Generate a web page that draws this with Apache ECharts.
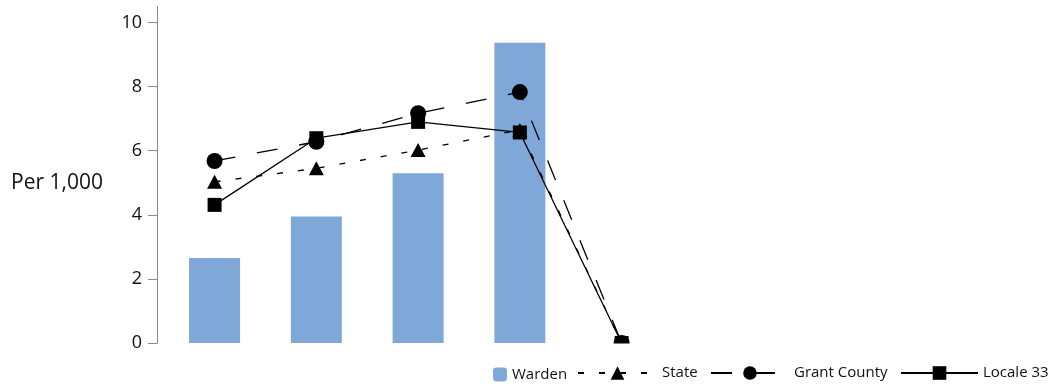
<!DOCTYPE html>
<html><head><meta charset="utf-8">
<script src="https://cdn.jsdelivr.net/npm/echarts@6/dist/echarts.min.js"></script>
<style>html,body{margin:0;padding:0;background:#fff}#c{width:1050px;height:386px}</style>
</head><body><div id="c"></div>
<script>
const categories = ['1', '2', '3', '4', '5'];
const warden = [2.65, 3.95, 5.3, 9.37, 0];
const state = [5.03, 5.45, 6.02, 6.65, 0];
const grantCounty = [5.68, 6.28, 7.17, 7.83, 0];
const locale33 = [4.31, 6.39, 6.9, 6.57, 0];
const yTicks = [0, 2, 4, 6, 8, 10];
const yAxisTitle = 'Per 1,000';

const FONT = 'Open Sans';
const chart = echarts.init(document.getElementById('c'), null, {renderer: 'canvas'});
const legendText = {color: '#111', fontSize: 15, fontFamily: FONT};
chart.setOption({
  animation: false,
  backgroundColor: '#fff',
  title: {
    text: yAxisTitle, left: 11, top: 173, padding: 0,
    textStyle: {fontSize: 21, fontWeight: 'normal', color: '#111', fontFamily: FONT}
  },
  grid: {left: 163.7, right: 377.5, top: 6.5, bottom: 43, containLabel: false},
  xAxis: {
    type: 'category', data: categories,
    axisLine: {show: false}, axisTick: {show: false}, axisLabel: {show: false}, splitLine: {show: false}
  },
  yAxis: {
    type: 'value', min: 0, max: 10.5, interval: 2, offset: 6.7,
    axisLine: {show: true, lineStyle: {color: '#8a8a8a', width: 1}},
    axisTick: {show: true, length: 9, customValues: yTicks, lineStyle: {color: '#8a8a8a'}},
    axisLabel: {customValues: yTicks, margin: 15, fontSize: 18, color: '#111', fontFamily: FONT},
    splitLine: {show: false}
  },
  legend: [
    {data: ['Warden'], left: 493, top: 367, padding: 0, itemWidth: 14, itemHeight: 14, textStyle: legendText},
    {data: ['State'], left: 577, top: 365.5, padding: 0, itemWidth: 79, itemHeight: 17, textStyle: legendText},
    {data: ['Grant County'], left: 710, top: 365.5, padding: 0, itemWidth: 78, itemHeight: 17, textStyle: legendText},
    {data: ['Locale 33'], left: 900, top: 365.5, padding: 0, itemWidth: 77, itemHeight: 17, textStyle: legendText}
  ],
  graphic: {
    z: 100,
    elements: [
      {type: 'rect', left: 158, top: 343.5, z: 100, shape: {width: 560, height: 14}, style: {fill: '#fff'}}
    ]
  },
  series: [
    {name: 'Warden', type: 'bar', data: warden, barWidth: 51, itemStyle: {color: '#7fa7d8'}},
    {name: 'State', type: 'line', data: state, symbol: 'triangle', symbolSize: [15, 14],
     itemStyle: {color: '#000'}, lineStyle: {color: '#000', width: 1.3, type: [6, 15]}},
    {name: 'Grant County', type: 'line', data: grantCounty, symbol: 'circle', symbolSize: 16,
     itemStyle: {color: '#000'}, lineStyle: {color: '#000', width: 1.3, type: [21, 22]}},
    {name: 'Locale 33', type: 'line', data: locale33, symbol: 'rect', symbolSize: 14,
     itemStyle: {color: '#000'}, lineStyle: {color: '#000', width: 1.3, type: 'solid'}}
  ]
});
</script></body></html>
